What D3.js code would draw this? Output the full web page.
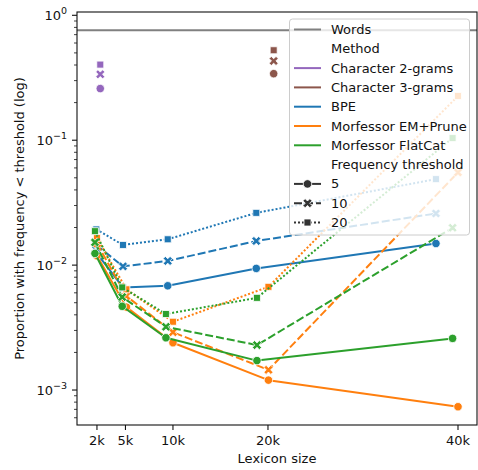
<!DOCTYPE html>
<meta charset="utf-8">
<head>
    <script src="https://d3js.org/d3.v7.min.js"></script>
    <style>
        body { margin: 0; background: white; }
        text { font-family: "DejaVu Sans", sans-serif; fill: #111; }
    </style>
</head>
<body>
    <div id="graph"></div>
<script>
    // data
    var methods = ["Character 2-grams", "Character 3-grams", "BPE", "Morfessor EM+Prune", "Morfessor FlatCat"];
    var methodColors = ["#9467bd", "#8c564b", "#1f77b4", "#ff7f0e", "#2ca02c"];
    var thresholds = ["5", "10", "20"];
    var wordsLevel = 0.76;

    var char2Size = [2350];
    var char2_5 = [0.259], char2_10 = [0.337], char2_20 = [0.403];

    var char3Size = [20600];
    var char3_5 = [0.341], char3_10 = [0.431], char3_20 = [0.525];

    var bpeSize = [1930, 4740, 9450, 18770, 37680];
    var bpe_5  = [0.0126, 0.00663, 0.00683, 0.00941, 0.0149];
    var bpe_10 = [0.0145, 0.00977, 0.0108, 0.0156, 0.0259];
    var bpe_20 = [0.0193, 0.0145, 0.0161, 0.0262, 0.0488];

    var emSize = [2000, 5100, 10000, 20050, 40000];
    var em_5  = [0.0119, 0.00461, 0.00239, 0.0012, 0.000735];
    var em_10 = [0.0149, 0.00565, 0.0029, 0.00145, 0.0552];
    var em_20 = [0.0165, 0.0064, 0.00352, 0.0067, 0.226];

    var flatSize = [1790, 4660, 9260, 18840, 39430];
    var flat_5  = [0.0124, 0.00468, 0.00262, 0.00172, 0.00259];
    var flat_10 = [0.0152, 0.00555, 0.00321, 0.00229, 0.0199];
    var flat_20 = [0.0187, 0.00663, 0.00406, 0.00547, 0.104];

    var xTicks = [2000, 5000, 10000, 20000, 40000];
    var xTickLabels = ["2k", "5k", "10k", "20k", "40k"];
    var yMajors = [1e-3, 1e-2, 1e-1, 1];
    var yMajorExp = ["\u22123", "\u22122", "\u22121", "0"];

    var sizes = [char2Size, char3Size, bpeSize, emSize, flatSize];
    var values = [
        [char2_5, char2_10, char2_20],
        [char3_5, char3_10, char3_20],
        [bpe_5, bpe_10, bpe_20],
        [em_5, em_10, em_20],
        [flat_5, flat_10, flat_20]
    ];

    var W = 478, H = 470;
    var plot = {left: 77, right: 477, top: 12, bottom: 425};
    var fs = "13px";

    var svg = d3.select("#graph").append("svg")
        .attr("width", W).attr("height", H);

    var x = d3.scaleLinear().domain([-100, 42000]).range([plot.left, plot.right]);
    var y = d3.scaleLog().domain([Math.pow(10, -3.28), Math.pow(10, 0.0264)]).range([plot.bottom, plot.top]);

    var lw = 2;
    var dashes = [null, (4 * lw) + "," + (1.5 * lw), lw + "," + lw];

    // markers: circle, filled X, square
    function markerPath(style) {
        if (style == 0) return d3.symbol().type(d3.symbolCircle).size(56)();
        if (style == 2) return "M-3.5,-3.5L3.5,-3.5L3.5,3.5L-3.5,3.5Z";
        var L = 4.9, h = 1.55, c = Math.SQRT1_2;
        var pts = [[h,-L],[h,-h],[L,-h],[L,h],[h,h],[h,L],[-h,L],[-h,h],[-L,h],[-L,-h],[-h,-h],[-h,-L]];
        return "M" + pts.map(function(p) {
            return [(p[0] - p[1]) * c, (p[0] + p[1]) * c].map(function(v) { return v.toFixed(2); }).join(",");
        }).join("L") + "Z";
    }

    var plotArea = svg.append("g");

    // words reference line
    plotArea.append("line")
        .attr("x1", plot.left).attr("x2", plot.right)
        .attr("y1", y(wordsLevel)).attr("y2", y(wordsLevel))
        .attr("stroke", "#808080").attr("stroke-width", lw);

    var line = d3.line()
        .x(function(d) { return x(d[0]); })
        .y(function(d) { return y(d[1]); });

    methods.forEach(function(m, mi) {
        thresholds.forEach(function(t, ti) {
            var pts = sizes[mi].map(function(s, i) { return [s, values[mi][ti][i]]; });
            var g = plotArea.append("g");
            if (pts.length > 1) {
                g.append("path")
                    .attr("d", line(pts))
                    .attr("fill", "none")
                    .attr("stroke", methodColors[mi])
                    .attr("stroke-width", lw)
                    .attr("stroke-linejoin", "round")
                    .attr("stroke-dasharray", dashes[ti]);
            }
            g.selectAll("path.mk")
                .data(pts)
                .enter()
                .append("path")
                .attr("class", "mk")
                .attr("d", markerPath(ti))
                .attr("transform", function(d) { return "translate(" + x(d[0]) + "," + y(d[1]) + ")"; })
                .attr("fill", methodColors[mi])
                .attr("stroke", "white")
                .attr("stroke-width", 0.8);
        });
    });

    // axes
    var axisColor = "#111";
    var xAxis = svg.append("g").attr("transform", "translate(0," + plot.bottom + ")");
    xTicks.forEach(function(v, i) {
        xAxis.append("line").attr("x1", x(v)).attr("x2", x(v)).attr("y1", 0).attr("y2", 5)
            .attr("stroke", axisColor).attr("stroke-width", 1.1);
        xAxis.append("text").attr("x", x(v)).attr("y", 20).attr("text-anchor", "middle")
            .style("font-size", fs).text(xTickLabels[i]);
    });
    svg.append("text").attr("x", (plot.left + plot.right) / 2).attr("y", 463)
        .attr("text-anchor", "middle").style("font-size", fs).text("Lexicon size");

    var yAxis = svg.append("g").attr("transform", "translate(" + plot.left + ",0)");
    var minors = [];
    [-4, -3, -2, -1, 0].forEach(function(e) {
        for (var k = 2; k <= 9; k++) {
            var v = k * Math.pow(10, e);
            if (v >= y.domain()[0] && v <= y.domain()[1]) minors.push(v);
        }
    });
    minors.forEach(function(v) {
        yAxis.append("line").attr("x1", 0).attr("x2", -3).attr("y1", y(v)).attr("y2", y(v))
            .attr("stroke", axisColor).attr("stroke-width", 0.8);
    });
    yMajors.forEach(function(v, i) {
        yAxis.append("line").attr("x1", 0).attr("x2", -5).attr("y1", y(v)).attr("y2", y(v))
            .attr("stroke", axisColor).attr("stroke-width", 1.1);
        var t = yAxis.append("text").attr("x", -10).attr("y", y(v) + 4.5)
            .attr("text-anchor", "end").style("font-size", fs);
        t.append("tspan").text("10");
        t.append("tspan").attr("dy", -6).style("font-size", "9.5px").text(yMajorExp[i]);
    });
    svg.append("text")
        .attr("transform", "translate(24," + ((plot.top + plot.bottom) / 2) + ") rotate(-90)")
        .attr("text-anchor", "middle").style("font-size", fs)
        .text("Proportion with frequency < threshold (log)");

    // frame
    svg.append("rect")
        .attr("x", plot.left).attr("y", plot.top)
        .attr("width", plot.right - plot.left).attr("height", plot.bottom - plot.top)
        .attr("fill", "none").attr("stroke", axisColor).attr("stroke-width", 1.1);

    // legend
    var leg = svg.append("g");
    leg.append("rect")
        .attr("x", 289.5).attr("y", 19).attr("width", 180).attr("height", 216).attr("rx", 3)
        .attr("fill", "white").attr("fill-opacity", 0.8)
        .attr("stroke", "#cccccc").attr("stroke-width", 1);

    var legendRows = [{label: "Words", color: "#808080"}, {label: "Method"}];
    methods.forEach(function(m, i) { legendRows.push({label: m, color: methodColors[i]}); });
    legendRows.push({label: "Frequency threshold"});
    thresholds.forEach(function(t, i) { legendRows.push({label: t, color: "#333333", style: i}); });

    legendRows.forEach(function(r, i) {
        var cy = 29.5 + i * 19.3;
        if (r.color) {
            leg.append("line").attr("x1", 294).attr("x2", 321).attr("y1", cy).attr("y2", cy)
                .attr("stroke", r.color).attr("stroke-width", lw)
                .attr("stroke-dasharray", r.style != null ? dashes[r.style] : null);
            if (r.style != null) {
                leg.append("path").attr("d", markerPath(r.style))
                    .attr("transform", "translate(307.5," + cy + ")")
                    .attr("fill", r.color).attr("stroke", "white").attr("stroke-width", 0.8);
            }
        }
        leg.append("text").attr("x", 331).attr("y", cy + 4.5)
            .style("font-size", fs).text(r.label);
    });
</script>
</body>
